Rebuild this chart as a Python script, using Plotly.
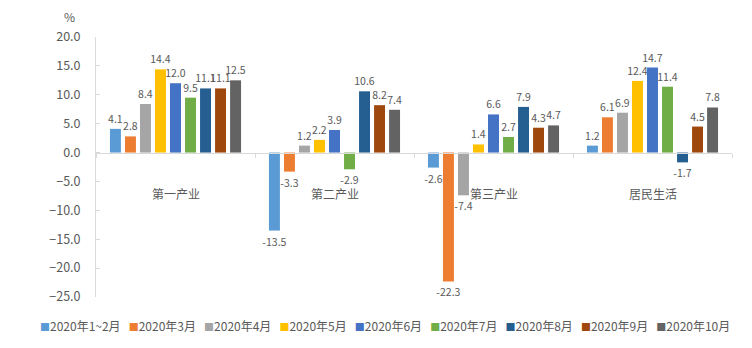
import plotly.graph_objects as go

# Categories and monthly series (year-on-year growth, %)
categories = ["第一产业", "第二产业", "第三产业", "居民生活"]
series_names = ["2020年1~2月", "2020年3月", "2020年4月", "2020年5月", "2020年6月",
                "2020年7月", "2020年8月", "2020年9月", "2020年10月"]
values_jan_feb = [4.1, -13.5, -2.6, 1.2]
values_mar = [2.8, -3.3, -22.3, 6.1]
values_apr = [8.4, 1.2, -7.4, 6.9]
values_may = [14.4, 2.2, 1.4, 12.4]
values_jun = [12.0, 3.9, 6.6, 14.7]
values_jul = [9.5, -2.9, 2.7, 11.4]
values_aug = [11.1, 10.6, 7.9, -1.7]
values_sep = [11.1, 8.2, 4.3, 4.5]
values_oct = [12.5, 7.4, 4.7, 7.8]
y_ticks = [20, 15, 10, 5, 0, -5, -10, -15, -20, -25]

all_series = [values_jan_feb, values_mar, values_apr, values_may, values_jun,
              values_jul, values_aug, values_sep, values_oct]
colors = ["#5B9BD5", "#ED7D31", "#A5A5A5", "#FFC000", "#4472C4",
          "#70AD47", "#255E91", "#9E480E", "#636363"]

FONT = "Noto Sans CJK SC"
TEXT_GRAY = "#595959"

fig = go.Figure()
for name, vals, col in zip(series_names, all_series, colors):
    fig.add_trace(go.Bar(
        x=categories, y=vals, name=name,
        marker=dict(color=col, line=dict(width=0)),
        text=[f"{v:.1f}" for v in vals],
        textposition="outside",
        constraintext="none",
        cliponaxis=False,
        textfont=dict(family=FONT, size=10.5, color=TEXT_GRAY),
        showlegend=False,
    ))

# Category names sit a little below the zero line
for c in categories:
    fig.add_annotation(x=c, xref="x", y=0.398, yref="paper", text=c,
                       showarrow=False, yanchor="middle",
                       font=dict(family=FONT, size=12, color=TEXT_GRAY))

fig.add_annotation(x=-0.041, xref="paper", y=1.077, yref="paper", text="%",
                   showarrow=False, xanchor="center", yanchor="middle",
                   font=dict(family=FONT, size=12, color=TEXT_GRAY))

# Compact single-row legend: coloured squares followed by series names
legend_text = "   ".join(
    f"<span style='color:{col};font-size:10px'>■</span>{name}"
    for name, col in zip(series_names, colors)
)
fig.add_annotation(x=0.454, xref="paper", y=-0.108, yref="paper", text=legend_text,
                   showarrow=False, xanchor="center", yanchor="middle",
                   font=dict(family=FONT, size=12, color=TEXT_GRAY))

fig.update_layout(
    width=752, height=348,
    margin=dict(l=96, r=20, t=37, b=51, autoexpand=False),
    paper_bgcolor="white", plot_bgcolor="white",
    barmode="group", bargap=0.15, bargroupgap=0.27,
    font=dict(family=FONT, size=11, color=TEXT_GRAY),
    showlegend=False,
    xaxis=dict(anchor="free", position=25 / 45, showline=True, linecolor="#D9D9D9",
               linewidth=1, ticks="outside", tickson="boundaries", ticklen=4,
               tickcolor="#D9D9D9", showticklabels=False, showgrid=False),
    yaxis=dict(range=[-25, 20], tickvals=y_ticks, tickformat=".1f",
               showline=True, linecolor="#D9D9D9", linewidth=1,
               ticks="inside", ticklen=4, tickcolor="#D9D9D9",
               ticklabelstandoff=12,
               showgrid=False, zeroline=False,
               tickfont=dict(family=FONT, size=12.5, color=TEXT_GRAY)),
)

fig.write_html("out.html")
